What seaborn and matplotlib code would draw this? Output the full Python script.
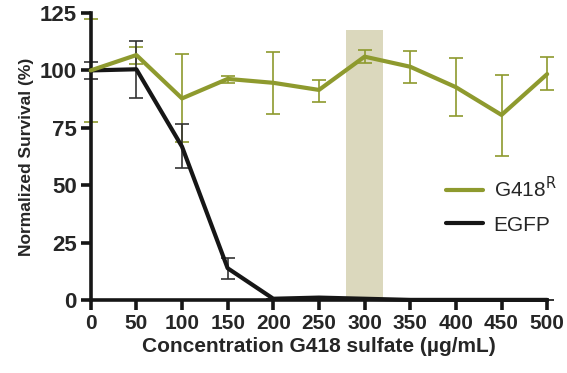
import matplotlib
matplotlib.use("Agg")
import matplotlib.pyplot as plt
import seaborn as sns
import pandas as pd

conc = [0, 50, 100, 150, 200, 250, 300, 350, 400, 450, 500]
g418_mean = [100, 106.7, 87.8, 96.3, 94.6, 91.5, 106, 101.6, 92.7, 80.6, 98.4]
g418_hi = [122.4, 110, 107, 97.6, 107.9, 95.8, 108.9, 108.5, 105.3, 98, 106]
g418_lo = [77.5, 102.8, 69, 94.6, 81, 86.4, 103.4, 94.6, 80.3, 62.7, 91.5]
egfp_conc = [0, 50, 100, 150, 200, 250, 300, 350, 400, 450, 500]
egfp_mean = [100, 100.5, 66.8, 13.8, 0.5, 1.0, 0.5, 0.0, 0.0, 0.0, 0.0]
egfp_hi = [103.8, 113, 76.7, 18.1, 0.5, 1.0, 0.5, 0.0, 0.0, 0.0, 0.0]
egfp_lo = [96.1, 87.8, 57.4, 9.0, 0.5, 1.0, 0.5, 0.0, 0.0, 0.0, 0.0]
band = (280, 320, 117.5)
xticks = [0, 50, 100, 150, 200, 250, 300, 350, 400, 450, 500]
yticks = [0, 25, 50, 75, 100, 125]

GREEN = "#8e9a2e"
BLACK = "#161616"

sns.set_theme(style="ticks")
plt.rcParams['font.family'] = ['Liberation Sans', 'DejaVu Sans']

fig = plt.figure(figsize=(5.67, 3.73), dpi=100)
ax = fig.add_axes([0.16, 0.196, 0.805, 0.769])

ax.bar([(band[0] + band[1]) / 2], [band[2]], width=band[1] - band[0],
       color="#dbd8bd", zorder=0, edgecolor="none")

df_g = pd.DataFrame({"x": conc, "y": g418_mean})
df_e = pd.DataFrame({"x": egfp_conc, "y": egfp_mean})

ax.errorbar(conc, g418_mean,
            yerr=[[m - l for m, l in zip(g418_mean, g418_lo)],
                  [h - m for m, h in zip(g418_mean, g418_hi)]],
            fmt="none", ecolor=GREEN, elinewidth=1.2, capsize=5, capthick=1.2,
            zorder=2, clip_on=False)
ax.errorbar(egfp_conc, egfp_mean,
            yerr=[[m - l for m, l in zip(egfp_mean, egfp_lo)],
                  [h - m for m, h in zip(egfp_mean, egfp_hi)]],
            fmt="none", ecolor="#333333", elinewidth=1.2, capsize=5, capthick=1.2,
            zorder=2, clip_on=False)

sns.lineplot(data=df_e, x="x", y="y", ax=ax, color=BLACK, linewidth=2.8,
             label="EGFP", zorder=3, clip_on=False)
sns.lineplot(data=df_g, x="x", y="y", ax=ax, color=GREEN, linewidth=3.5,
             label="G418$^{\\mathrm{R}}$", zorder=4, clip_on=False)

ax.set_xlim(0, 500)
ax.set_ylim(0, 125)
ax.set_xticks(xticks)
ax.set_yticks(yticks)
ax.set_xticklabels([str(t) for t in xticks], fontsize=15, fontweight="bold")
ax.set_yticklabels([str(t) for t in yticks], fontsize=16, fontweight="bold")
ax.set_xlabel("Concentration G418 sulfate (µg/mL)", fontsize=15, fontweight="bold", labelpad=3)
ax.set_ylabel("Normalized Survival (%)", fontsize=12.5, fontweight="bold", labelpad=4)

for s in ["top", "right"]:
    ax.spines[s].set_visible(False)
for s in ["left", "bottom"]:
    ax.spines[s].set_linewidth(2.6)
    ax.spines[s].set_color(BLACK)
ax.tick_params(axis="both", length=7, width=2.6, color=BLACK, pad=3)

handles, labels = ax.get_legend_handles_labels()
for h in handles:
    h.set_linewidth(3)
order = [1, 0]
leg = ax.legend([handles[i] for i in order], [labels[i] for i in order],
                loc="center left", bbox_to_anchor=(0.746, 0.33), frameon=False,
                fontsize=15, handlelength=1.8, labelspacing=0.7, handletextpad=0.5,
                borderpad=0.2)

fig.savefig("out.png", dpi=100)
